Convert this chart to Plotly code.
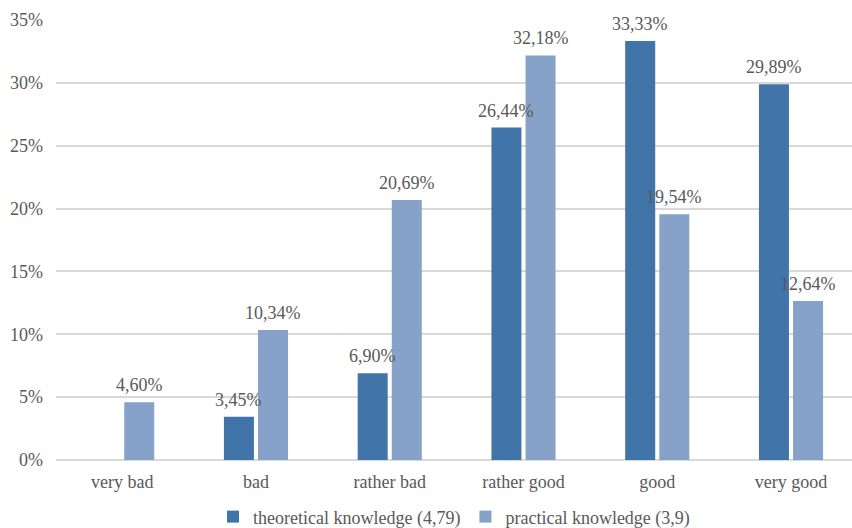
import plotly.graph_objects as go

categories = ["very bad", "bad", "rather bad", "rather good", "good", "very good"]
theoretical = [None, 3.45, 6.90, 26.44, 33.33, 29.89]
practical = [4.60, 10.34, 20.69, 32.18, 19.54, 12.64]
series_names = ["theoretical knowledge (4,79)", "practical knowledge (3,9)"]
series_colors = ["#4174A8", "#86A2C9"]
y_ticks = [0, 5, 10, 15, 20, 25, 30, 35]

FONT = "serif, 'DejaVu Serif'"
TEXT_COLOR = "#595959"

# x-axis geometry: plot width and category range, used to place value labels
PLOT_LEFT, PLOT_RIGHT = 56, 852
X_RANGE = [-0.495, 5.456]
BARGAP = 0.49
px_per_cat = (PLOT_RIGHT - PLOT_LEFT) / (X_RANGE[1] - X_RANGE[0])
slot_px = px_per_cat * (1 - BARGAP) / 2
offsets = [-slot_px / 2, slot_px / 2]


def pct_label(v):
    return f"{v:.2f}%".replace(".", ",")


fig = go.Figure()
for name, vals, color in zip(series_names, [theoretical, practical], series_colors):
    fig.add_trace(go.Bar(
        x=categories,
        y=vals,
        name=name,
        marker=dict(color=color, line=dict(width=0)),
    ))

# value labels above each bar
for vals, dx in zip([theoretical, practical], offsets):
    for cat, v in zip(categories, vals):
        if v is None:
            continue
        fig.add_annotation(
            x=cat, y=v, xref="x", yref="y",
            text=pct_label(v),
            showarrow=False,
            xanchor="center", yanchor="bottom",
            xshift=dx, yshift=5,
            font=dict(family=FONT, size=18, color=TEXT_COLOR),
        )

fig.update_layout(
    width=852,
    height=528,
    margin=dict(l=PLOT_LEFT, r=852 - PLOT_RIGHT, t=20, b=68, autoexpand=False),
    paper_bgcolor="white",
    plot_bgcolor="white",
    barmode="group",
    bargap=BARGAP,
    bargroupgap=0.12,
    font=dict(family=FONT, size=18, color=TEXT_COLOR),
    showlegend=True,
    legend=dict(
        orientation="h",
        x=0.5,
        xanchor="center",
        yref="container",
        y=0.021,
        yanchor="middle",
        font=dict(family=FONT, size=18, color=TEXT_COLOR),
        itemwidth=30,
        tracegroupgap=0,
    ),
)

fig.update_xaxes(
    range=X_RANGE,
    showgrid=False,
    showline=False,
    ticks="",
    ticklabelstandoff=9,
    tickfont=dict(family=FONT, size=18, color=TEXT_COLOR),
)

fig.update_yaxes(
    range=[0, 35],
    tickvals=y_ticks,
    ticktext=[f"{t}%" for t in y_ticks],
    showgrid=True,
    gridcolor="#D9D9D9",
    gridwidth=1.5,
    zeroline=True,
    zerolinecolor="#D9D9D9",
    zerolinewidth=1.5,
    showline=False,
    ticks="",
    ticklabelstandoff=12,
    tickfont=dict(family=FONT, size=18, color=TEXT_COLOR),
)

fig.write_html("out.html")
